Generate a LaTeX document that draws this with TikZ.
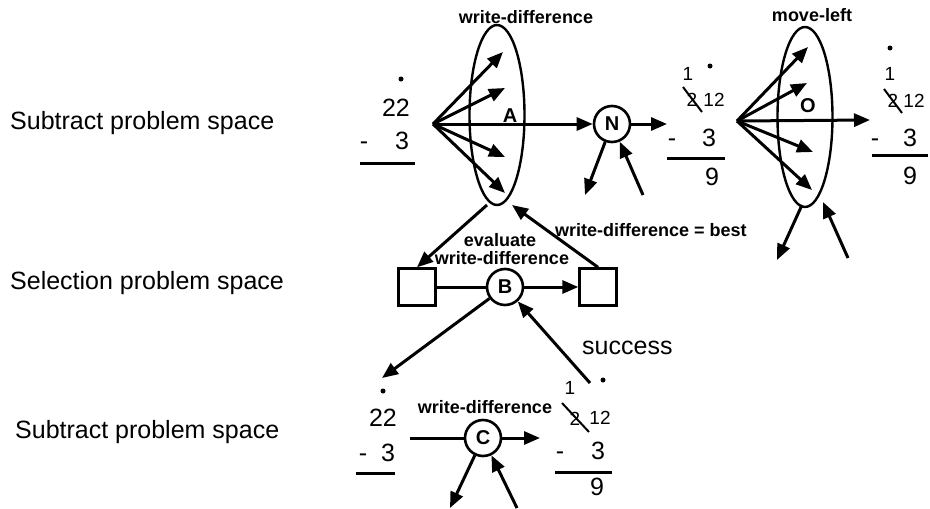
\documentclass[tikz,border=0pt]{standalone}
\usepackage{fontspec}
\setmainfont{Liberation Sans}
\usetikzlibrary{arrows.meta,shapes.geometric}
\begin{document}
\begin{tikzpicture}[x=1pt,y=-1pt,
  arr/.style={line width=3pt,-{Triangle[length=16pt,width=13pt]}},
  ln/.style={line width=3pt},
  thin/.style={line width=2pt},
  lab/.style={font=\fontsize{18}{18}\selectfont\bfseries, inner sep=0pt},
  lspace/.style={font=\fontsize{25}{25}\selectfont, anchor=west, inner sep=0pt},
  num/.style={font=\fontsize{25}{25}\selectfont, inner sep=0pt, anchor=base},
  snum/.style={font=\fontsize{19}{19}\selectfont, inner sep=0pt, anchor=base},
  state/.style={circle, draw, line width=2.6pt, minimum size=36pt, inner sep=0pt, font=\fontsize{20}{20}\selectfont\bfseries},
  sbox/.style={draw, line width=2.4pt, minimum size=37pt, inner sep=0pt},
  opell/.style={ellipse, draw, line width=2.4pt, minimum width=55pt, minimum height=180pt, inner sep=0pt},
  oplab/.style={font=\fontsize{20}{20}\selectfont\bfseries, inner sep=0pt},
  carry/.style={circle, fill, inner sep=0pt, minimum size=5pt},
]
\useasboundingbox (0,0) rectangle (930,509);

% left labels
\node[lspace] (l1) at (10,123) {Subtract problem space};
\node[lspace] (l2) at (10,283) {Selection problem space};
\node[lspace] (l3) at (15,432) {Subtract problem space};

% ---------- top row ----------
\node[carry] (d1) at (401,79) {};
\node[num] (n22a) at (396,116) {22};
\node[num] (m1) at (364,149) {-};
\node[num] (n3a) at (402,149) {3};
\draw[ln] (360,163) -- (415,163);

\coordinate (f1) at (433,124);
\node[opell] (A) at (497,115) {};
\node[oplab] (Alab) at (510,116) {A};
\node[lab] (wdA) at (526,17) {write-difference};
\coordinate (ta1) at (503,52);
\coordinate (ta2) at (505,88);
\coordinate (ta3) at (505,157);
\coordinate (ta4) at (505,193);
\draw[arr] (f1) -- (ta1);
\draw[arr] (f1) -- (ta2);
\draw[arr] (f1) -- (ta3);
\draw[arr] (f1) -- (ta4);

\node[state] (N) at (612,124) {N};
\draw[arr] (f1) -- (N);
\coordinate (nout) at (667,124);
\coordinate (ndl) at (585,195);
\coordinate (nup) at (643,195);
\draw[arr] (N) -- (nout);
\draw[arr] (N) -- (ndl);
\draw[arr] (nup) -- (N);

% middle numbers
\node[snum] (c1) at (688,80) {1};
\node[carry] (d2) at (710,66) {};
\node[snum] (x2) at (692,106) {2};
\node[snum] (t12) at (714,106) {12};
\draw[thin] (683,87) -- (702,112);
\node[num] (m2) at (672,146) {-};
\node[num] (n3b) at (709,146) {3};
\draw[ln] (667,158) -- (725,158);
\node[num] (n9b) at (712,185) {9};

\coordinate (f2) at (737,121);
\node[opell] (O) at (805,117) {};
\node[oplab] (Olab) at (808,106) {O};
\node[lab] (ml) at (812,15) {move-left};
\coordinate (to1) at (808,47);
\coordinate (to2) at (807,83);
\coordinate (to3) at (813,152);
\coordinate (to4) at (812,190);
\coordinate (to5) at (870,120);
\draw[arr] (f2) -- (to1);
\draw[arr] (f2) -- (to2);
\draw[arr] (f2) -- (to3);
\draw[arr] (f2) -- (to4);
\draw[arr] (f2) -- (to5);
\coordinate (os1) at (802,205);
\coordinate (os2) at (777,260);
\coordinate (os3) at (848,258);
\coordinate (os4) at (823,202);
\draw[arr] (os1) -- (os2);
\draw[arr] (os3) -- (os4);

% right numbers
\node[carry] (d3) at (890,48) {};
\node[snum] (c2) at (890,80) {1};
\node[snum] (x3) at (893,107) {2};
\node[snum] (t12b) at (914,107) {12};
\draw[thin] (884,89) -- (902,113);
\node[num] (m3) at (875,146) {-};
\node[num] (n3c) at (910,146) {3};
\draw[ln] (872,155) -- (928,155);
\node[num] (n9c) at (910,184) {9};

% ---------- middle row ----------
\node[sbox] (bl) at (417,287) {};
\node[sbox] (br) at (598,287) {};
\node[state] (B) at (505,287) {B};
\draw[ln] (bl) -- (B);
\draw[arr] (B) -- (br);
\coordinate (as1) at (487,205);
\coordinate (as2) at (512,205);
\draw[arr] (as1) -- (bl.north);
\draw[arr] (br.north) -- (as2);
\node[lab] (ev1) at (500,240) {evaluate};
\node[lab] (ev2) at (502,258) {write-difference};
\node[lab, anchor=west] (best) at (555,230) {write-difference = best};

% ---------- bottom row ----------
\coordinate (bdl) at (382,378);
\coordinate (bup) at (590,383);
\draw[arr] (B) -- (bdl);
\draw[arr] (bup) -- (B);
\node[font=\fontsize{25}{25}\selectfont, anchor=west, inner sep=0pt] (succ) at (582,348) {success};

\node[carry] (d4) at (383,391) {};
\node[num] (n22d) at (383,426) {22};
\node[num] (m4) at (363,461) {-};
\node[num] (n3d) at (388,461) {3};
\draw[ln] (356,473) -- (395,473);

\node[lab] (wdC) at (485,407) {write-difference};
\node[state] (C) at (483,438) {C};
\coordinate (cin) at (410,438);
\coordinate (cout) at (540,438);
\coordinate (cdl) at (450,508);
\coordinate (cup) at (517,508);
\draw[ln] (cin) -- (C);
\draw[arr] (C) -- (cout);
\draw[arr] (C) -- (cdl);
\draw[arr] (cup) -- (C);

\node[snum] (c5) at (570,394) {1};
\node[carry] (d5) at (603,380) {};
\node[snum] (x5) at (575,425) {2};
\node[snum] (t12c) at (600,424) {12};
\draw[thin] (562,403) -- (589,432);
\node[num] (m5) at (560,459) {-};
\node[num] (n3e) at (598,459) {3};
\draw[ln] (555,472) -- (612,472);
\node[num] (n9e) at (597,495) {9};
\end{tikzpicture}
\end{document}
